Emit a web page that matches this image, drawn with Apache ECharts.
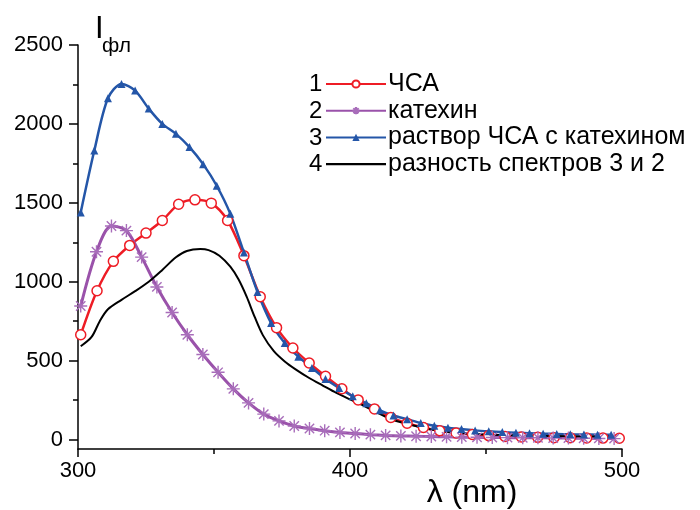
<!DOCTYPE html>
<html>
<head>
<meta charset="utf-8">
<script src="https://cdn.jsdelivr.net/npm/echarts@6/dist/echarts.min.js"></script>
<style>html,body{margin:0;padding:0;background:#fff}#c{width:700px;height:510px}</style>
</head>
<body>
<div id="c"></div>
<script>
// ---- data ----
var seriesNames = ['ЧСА', 'катехин', 'раствор ЧСА с катехином', 'разность спектров 3 и 2'];
var legendNumbers = ['1', '2', '3', '4'];
var xTicks = [300, 400, 500];
var yTicks = [0, 500, 1000, 1500, 2000, 2500];
var yMinorTicks = [250, 750, 1250, 1750, 2250];
var xTitle = 'λ (nm)';

var hsaX = [301,307,313,319,325,331,337,343,349,355,361,367,373,379,385,391,397,403,409,415,421,427,433,439,445,451,457,463,469,475,481,487,493,499];
var hsaY = [664,943,1129,1230,1308,1388,1491,1519,1498,1388,1165,905,709,580,485,401,322,251,194,140,103,76,55,42,32,25,20,16,14,12,11,10,9,8];

var catX = [301,306.8,312.3,317.8,323.4,329,334.6,340.2,345.9,351.5,357.1,362.7,368.3,373.9,379.5,385.1,390.7,396.3,401.9,407.5,413.1,418.7,424.3,429.9,435.5,441.1,446.7,452.3,457.9,463.5,469.1,474.7,480.3,485.9,491.5,497.1];
var catY = [846,1190,1353,1324,1156,967,805,664,539,426,321,232,161,118,86,70,56,45,38,31,26,23,21,19,17,15,14,13,12,11,11,10,9,8,7,6];

var mixX = [301,306,311,316,321,326,331,336,341,346,351,356,361,366,371,376,381,386,391,396,401,406,411,416,421,426,431,436,441,446,451,456,461,466,471,476,481,486,491,496];
var mixY = [1439,1831,2162,2253,2211,2097,2000,1937,1853,1745,1608,1430,1185,935,738,612,525,454,384,327,274,230,185,152,129,105,87,74,66,58,52,47,43,40,37,35,33,32,31,30];

var diffX = [301,305,308,311,316,321,326,331,336,340,345,348,352,356,359,362,365,368,372,376,380,385,390,395,400,405,410,415,420,425,430,435,440,450,460,470,480,490,500];
var diffY = [591,650,750,825,885,940,1000,1075,1155,1195,1207,1200,1165,1095,1015,905,775,660,560,495,445,390,342,295,255,215,170,130,103,82,63,50,42,32,27,23,21,19,18];

function pairs(xs, ys) { return xs.map(function (x, i) { return [x, ys[i]]; }); }

var FONT = "'Liberation Sans', Arial, sans-serif";
var colors = ['#EE1C25', '#9A52AA', '#2456A8', '#000000'];
var star = 'path://M0,-5L0,5M-5,0L5,0M-3.6,-3.6L3.6,3.6M-3.6,3.6L3.6,-3.6';
var plainLine = 'path://M0,0L60,0L60,2.2L0,2.2Z';

var chart = echarts.init(document.getElementById('c'), null, {renderer: 'canvas'});
var option = {
  animation: false,
  backgroundColor: '#fff',
  grid: {left: 78, right: 78, top: 45, bottom: 61, containLabel: false, outerBoundsMode: 'none'},
  xAxis: [{
    type: 'value', min: 300, max: 500, interval: 100,
    axisLine: {show: true, onZero: false, lineStyle: {color: '#000', width: 1.5}},
    axisTick: {show: true, inside: false, length: 8, lineStyle: {color: '#000', width: 1.5}},
    minorTick: {show: true, splitNumber: 2, length: 5, lineStyle: {color: '#000', width: 1.5}},
    splitLine: {show: false},
    axisLabel: {color: '#000', fontSize: 22, fontFamily: FONT, margin: 11, customValues: xTicks}
  }],
  yAxis: [{
    type: 'value', min: -60, max: 2500,
    axisLine: {show: true, onZero: false, lineStyle: {color: '#000', width: 1.5}},
    axisTick: {show: true, inside: false, length: 9, lineStyle: {color: '#000', width: 1.5}, customValues: yTicks},
    splitLine: {show: false},
    axisLabel: {color: '#000', fontSize: 22, fontFamily: FONT, margin: 15, customValues: yTicks,
      formatter: function (v) { return String(v); }}
  }, {
    type: 'value', min: -60, max: 2500, position: 'left',
    axisLine: {show: false, onZero: false},
    axisTick: {show: true, inside: false, length: 5, lineStyle: {color: '#000', width: 1.5}, customValues: yMinorTicks},
    splitLine: {show: false},
    axisLabel: {show: false, customValues: yMinorTicks}
  }],
  legend: {
    orient: 'vertical', left: 325, top: 71.5, padding: 0,
    itemWidth: 60, itemHeight: 9, itemGap: 1.7,
    textStyle: {color: '#000', fontSize: 25, lineHeight: 25, fontFamily: FONT, padding: [0, 0, 0, -3]},
    data: [
      {name: seriesNames[0]},
      {name: seriesNames[1]},
      {name: seriesNames[2]},
      {name: seriesNames[3], icon: plainLine}
    ]
  },
  graphic: [
    {type: 'text', left: 95, top: 14, style: {text: 'I', fontSize: 31, fontFamily: FONT, fill: '#000'}},
    {type: 'text', left: 102, top: 36, style: {text: 'фл', fontSize: 21, fontFamily: FONT, fill: '#000'}},
    {type: 'text', x: 472, y: 493, style: {text: xTitle, fontSize: 32, fontFamily: FONT, fill: '#000',
      align: 'center', verticalAlign: 'middle'}}
  ].concat(legendNumbers.map(function (n, i) {
    return {type: 'text', left: 309, top: 72.5 + i * 26.7, style: {text: n, fontSize: 24, fontFamily: FONT, fill: '#000'}};
  })),
  series: [
    {name: seriesNames[0], type: 'line', data: pairs(hsaX, hsaY), smooth: 0.3,
      symbol: 'circle', symbolSize: 10, showAllSymbol: true,
      lineStyle: {color: colors[0], width: 2.5},
      itemStyle: {color: '#fff', borderColor: colors[0], borderWidth: 1.5}},
    {name: seriesNames[1], type: 'line', data: pairs(catX, catY), smooth: 0.3,
      symbol: star, symbolSize: 13, showAllSymbol: true,
      lineStyle: {color: colors[1], width: 3},
      itemStyle: {color: 'rgba(0,0,0,0)', borderColor: '#A86DBA', borderWidth: 1.4}},
    {name: seriesNames[2], type: 'line', data: pairs(mixX, mixY), smooth: 0.3,
      symbol: 'triangle', symbolSize: 8, showAllSymbol: true,
      lineStyle: {color: colors[2], width: 2.5},
      itemStyle: {color: colors[2], borderWidth: 0}},
    {name: seriesNames[3], type: 'line', data: pairs(diffX, diffY), smooth: 0.3,
      symbol: 'none', showSymbol: false,
      lineStyle: {color: colors[3], width: 2},
      itemStyle: {color: colors[3]}}
  ]
};
chart.setOption(option);
</script>
</body>
</html>
